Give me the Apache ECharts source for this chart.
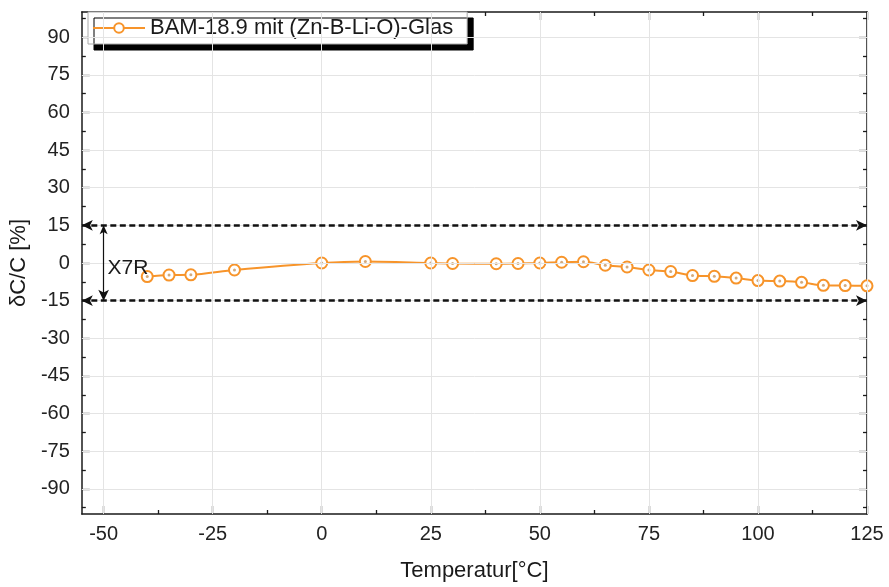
<!DOCTYPE html>
<html>
<head>
<meta charset="utf-8">
<script src="https://cdn.jsdelivr.net/npm/echarts@6/dist/echarts.min.js"></script>
<style>html,body{margin:0;padding:0;background:#fff}#c{width:889px;height:587px}</style>
</head>
<body>
<div id="c"></div>
<script>
// ---- data ----
const temperatures = [-40,-35,-30,-20,0,10,25,30,40,45,50,55,60,65,70,75,80,85,90,95,100,105,110,115,120,125];
const capChange = [-5.4,-4.8,-4.7,-2.8,0,0.6,0,-0.2,-0.3,-0.2,0,0.3,0.5,-0.9,-1.6,-2.8,-3.4,-5.0,-5.3,-6.0,-7.0,-7.2,-7.7,-8.9,-9.0,-9.1];
const xMajorTicks = [-50,-25,0,25,50,75,100,125];
const xMinorTicks = [-37.5,-12.5,12.5,37.5,62.5,87.5,112.5];
const yMajorTicks = [-90,-75,-60,-45,-30,-15,0,15,30,45,60,75,90];
const yMinorTicks = [-97.5,-82.5,-67.5,-52.5,-37.5,-22.5,-7.5,7.5,22.5,37.5,52.5,67.5,82.5,97.5];
const x7rLimits = [15,-15];
const seriesName = 'BAM-18.9 mit (Zn-B-Li-O)-Glas';
const xRange = [-55,125];
const yRange = [-100,100];

const ORANGE = '#F7942A';
const points = temperatures.map((t,i)=>[t,capChange[i]]);
const FONT = 'Liberation Sans, Arial, sans-serif';

function xAx(pos, ticks, len, showLine, opts){
  return Object.assign({
    type:'value', position:pos, min:xRange[0], max:xRange[1],
    axisLine:{show:showLine, onZero:false, lineStyle:{color:'#1a1a1a', width:1.5}},
    axisTick:{show:true, inside:true, length:len, customValues:ticks, lineStyle:{color:'#1a1a1a', width:1.3}},
    axisLabel:{show:false},
    splitLine:{show:false}
  }, opts||{});
}
function yAx(pos, ticks, len, showLine, opts){
  return Object.assign({
    type:'value', position:pos, min:yRange[0], max:yRange[1],
    axisLine:{show:showLine, onZero:false, lineStyle:{color:'#1a1a1a', width:1.5}},
    axisTick:{show:true, inside:true, length:len, customValues:ticks, lineStyle:{color:'#1a1a1a', width:1.3}},
    axisLabel:{show:false},
    splitLine:{show:false}
  }, opts||{});
}

const chart = echarts.init(document.getElementById('c'), null, {renderer:'canvas'});
chart.setOption({
  animation:false,
  backgroundColor:'#fff',
  textStyle:{fontFamily:FONT},
  grid:{left:81, right:22, top:12, bottom:70, containLabel:false},
  legend:{
    left:88, top:12, padding:[5,14,5,4], itemWidth:52, itemHeight:12, itemGap:6,
    backgroundColor:'#fff', borderColor:'#aaa', borderWidth:1,
    shadowColor:'#000', shadowBlur:0, shadowOffsetX:6, shadowOffsetY:6,
    textStyle:{fontSize:22, color:'#1a1a1a', fontFamily:FONT},
    data:[seriesName]
  },
  xAxis:[
    xAx('bottom', xMajorTicks, 8, true, {
      name:'Temperatur[°C]', nameLocation:'middle', nameGap:46,
      nameTextStyle:{fontSize:22, color:'#1a1a1a', fontFamily:FONT},
      axisLabel:{show:true, customValues:xMajorTicks, fontSize:20, color:'#222', margin:10, fontFamily:FONT}
    }),
    xAx('bottom', xMinorTicks, 4, false),
    xAx('top', xMajorTicks, 8, true),
    xAx('top', xMinorTicks, 4, false)
  ],
  yAxis:[
    yAx('left', yMajorTicks, 8, true, {
      name:'δC/C [%]', nameLocation:'middle', nameGap:50,
      nameTextStyle:{fontSize:22, color:'#1a1a1a', fontFamily:FONT},
      axisLabel:{show:true, customValues:yMajorTicks, fontSize:20, color:'#222', margin:12, fontFamily:FONT}
    }),
    yAx('left', yMinorTicks, 4, false),
    yAx('right', yMajorTicks, 8, true),
    yAx('right', yMinorTicks, 4, false)
  ],
  series:[
    {
      name:'grid', type:'line', data:points, symbol:'none', silent:true,
      lineStyle:{opacity:0}, z:1, legendHoverLink:false,
      markLine:{
        silent:true, symbol:'none', animation:false,
        label:{show:false},
        lineStyle:{color:'#e4e4e4', width:1, type:'solid'},
        data: xMajorTicks.map(v=>({xAxis:v})).concat(yMajorTicks.map(v=>({yAxis:v})))
      }
    },
    {
      name:seriesName, type:'line', data:points, smooth:0.3,
      symbol:'emptyCircle', symbolSize:11, z:3,
      itemStyle:{color:ORANGE, borderWidth:2},
      lineStyle:{color:ORANGE, width:2},
      markLine:{
        silent:true, animation:false, label:{show:false},
        symbol:['arrow','arrow'], symbolSize:[8,11],
        data:[
          {yAxis:x7rLimits[0], lineStyle:{color:'#111', width:2.5, type:[6,3.5]}},
          {yAxis:x7rLimits[1], lineStyle:{color:'#111', width:2.5, type:[6,3.5]}},
          [{coord:[-50,x7rLimits[0]], lineStyle:{color:'#111', width:1.2, type:'solid'}, symbolSize:[6,9]},
           {coord:[-50,x7rLimits[1]]}]
        ]
      },
      markPoint:{
        silent:true, symbol:'circle', symbolSize:0,
        label:{show:true, position:'right', distance:4, formatter:'X7R', fontSize:21, color:'#1a1a1a', fontFamily:FONT},
        data:[{coord:[-50,-2]}]
      }
    },
    {
      name:'dots', type:'scatter', data:points, symbol:'circle', symbolSize:3,
      itemStyle:{color:'#c9955a'}, z:4, silent:true
    }
  ]
});
</script>
</body>
</html>
